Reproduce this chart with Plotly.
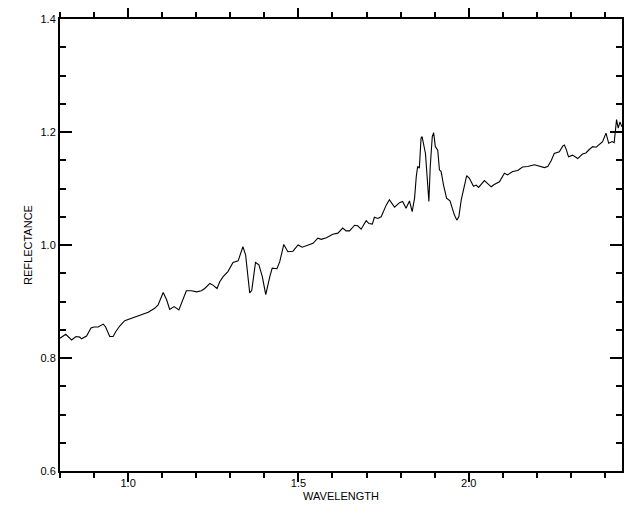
import plotly.graph_objects as go

wavelength = [
    0.800, 0.817, 0.834, 0.847, 0.858, 0.863, 0.878, 0.891, 0.900, 0.912,
    0.927, 0.934, 0.946, 0.956, 0.964, 0.976, 0.990, 1.005, 1.020, 1.039,
    1.059, 1.078, 1.088, 1.103, 1.113, 1.122, 1.135, 1.149, 1.158, 1.171,
    1.186, 1.201, 1.215, 1.225, 1.240, 1.249, 1.261, 1.269, 1.279, 1.293,
    1.308, 1.323, 1.337, 1.345, 1.357, 1.363, 1.374, 1.384, 1.394, 1.404,
    1.416, 1.423, 1.437, 1.445, 1.457, 1.469, 1.484, 1.499, 1.511, 1.528,
    1.543, 1.557, 1.567, 1.582, 1.601, 1.616, 1.630, 1.640, 1.650, 1.665,
    1.674, 1.684, 1.699, 1.707, 1.717, 1.723, 1.733, 1.743, 1.758, 1.767,
    1.782, 1.797, 1.806, 1.816, 1.826, 1.834, 1.841, 1.846, 1.850, 1.855,
    1.860, 1.863, 1.867, 1.873, 1.883, 1.887, 1.893, 1.897, 1.902, 1.909,
    1.914, 1.919, 1.926, 1.935, 1.945, 1.958, 1.965, 1.971, 1.978, 1.987,
    1.994, 2.002, 2.014, 2.022, 2.029, 2.046, 2.056, 2.066, 2.075, 2.090,
    2.105, 2.114, 2.129, 2.144, 2.158, 2.173, 2.193, 2.207, 2.222, 2.232,
    2.242, 2.251, 2.266, 2.276, 2.281, 2.287, 2.293, 2.305, 2.320, 2.334,
    2.344, 2.354, 2.364, 2.374, 2.383, 2.393, 2.403, 2.411, 2.421, 2.427,
    2.434, 2.439, 2.444, 2.450,
]

reflectance = [
    0.835, 0.842, 0.832, 0.838, 0.837, 0.834, 0.839, 0.853, 0.855, 0.855,
    0.860, 0.855, 0.838, 0.838, 0.847, 0.857, 0.866, 0.869, 0.873, 0.877,
    0.881, 0.888, 0.894, 0.916, 0.903, 0.886, 0.891, 0.885, 0.900, 0.919,
    0.919, 0.917, 0.919, 0.923, 0.932, 0.929, 0.923, 0.935, 0.944, 0.953,
    0.969, 0.972, 0.997, 0.982, 0.915, 0.920, 0.969, 0.965, 0.944, 0.912,
    0.944, 0.959, 0.958, 0.970, 1.001, 0.988, 0.989, 1.000, 0.996, 1.000,
    1.003, 1.012, 1.010, 1.013, 1.019, 1.021, 1.030, 1.025, 1.025, 1.035,
    1.034, 1.028, 1.043, 1.038, 1.037, 1.049, 1.047, 1.050, 1.071, 1.080,
    1.067, 1.075, 1.077, 1.065, 1.078, 1.059, 1.083, 1.121, 1.139, 1.136,
    1.189, 1.192, 1.180, 1.162, 1.077, 1.139, 1.192, 1.199, 1.174, 1.168,
    1.133, 1.130, 1.106, 1.083, 1.078, 1.053, 1.044, 1.050, 1.080, 1.106,
    1.123, 1.118, 1.104, 1.106, 1.102, 1.114, 1.108, 1.103, 1.107, 1.112,
    1.127, 1.124, 1.130, 1.132, 1.138, 1.139, 1.142, 1.140, 1.137, 1.139,
    1.149, 1.162, 1.165, 1.175, 1.177, 1.168, 1.156, 1.159, 1.153, 1.161,
    1.163, 1.169, 1.174, 1.173, 1.177, 1.183, 1.198, 1.180, 1.183, 1.181,
    1.222, 1.207, 1.218, 1.209,
]

x_range = [0.8, 2.45]
y_range = [0.6, 1.4]

fig = go.Figure()
fig.add_trace(go.Scatter(
    x=wavelength, y=reflectance, mode="lines",
    line=dict(color="black", width=1.1), showlegend=False, hoverinfo="skip",
))
# empty traces that anchor the minor-tick overlay axes
fig.add_trace(go.Scatter(x=[], y=[], xaxis="x2", yaxis="y", showlegend=False))
fig.add_trace(go.Scatter(x=[], y=[], xaxis="x", yaxis="y2", showlegend=False))

tick_font = dict(family="Liberation Sans, Arial, sans-serif", size=11, color="#000000")
title_font = dict(family="Liberation Sans Narrow, Liberation Sans, sans-serif", size=11, color="#000000")

frame_y = dict(showgrid=False, zeroline=False, automargin=False, tickcolor="black",
               ticks="inside", mirror="ticks", showline=True, linecolor="black", linewidth=2)
frame_x = dict(showgrid=False, zeroline=False, tickcolor="black", tickwidth=2,
               ticks="outside", mirror="ticks", showline=True, linecolor="black", linewidth=2)

fig.update_layout(
    width=640, height=512,
    margin=dict(l=60, r=18, t=19, b=41, autoexpand=False),
    paper_bgcolor="white", plot_bgcolor="white",
    xaxis=dict(
        range=x_range, tick0=0, dtick=0.5, tickformat=".1f", ticklen=9,
        tickfont=tick_font, ticklabelstandoff=-8,
        title=dict(text="WAVELENGTH", font=title_font, standoff=4),
        **frame_x,
    ),
    xaxis2=dict(
        range=x_range, tick0=0, dtick=0.1, ticklen=5, overlaying="x",
        side="bottom", anchor="y", showticklabels=False, **frame_x,
    ),
    yaxis=dict(
        range=y_range, tick0=0, dtick=0.2, tickformat=".1f", ticklen=12, tickwidth=1.5,
        tickfont=tick_font,
        title=dict(text="REFLECTANCE", font=title_font, standoff=6),
        **frame_y,
    ),
    yaxis2=dict(
        range=y_range, tick0=0, dtick=0.05, ticklen=6, tickwidth=1.5, overlaying="y",
        side="left", anchor="x", showticklabels=False, **frame_y,
    ),
)

fig.write_html("out.html", config={"displayModeBar": False},
               post_script="document.body.style.margin='0';")
